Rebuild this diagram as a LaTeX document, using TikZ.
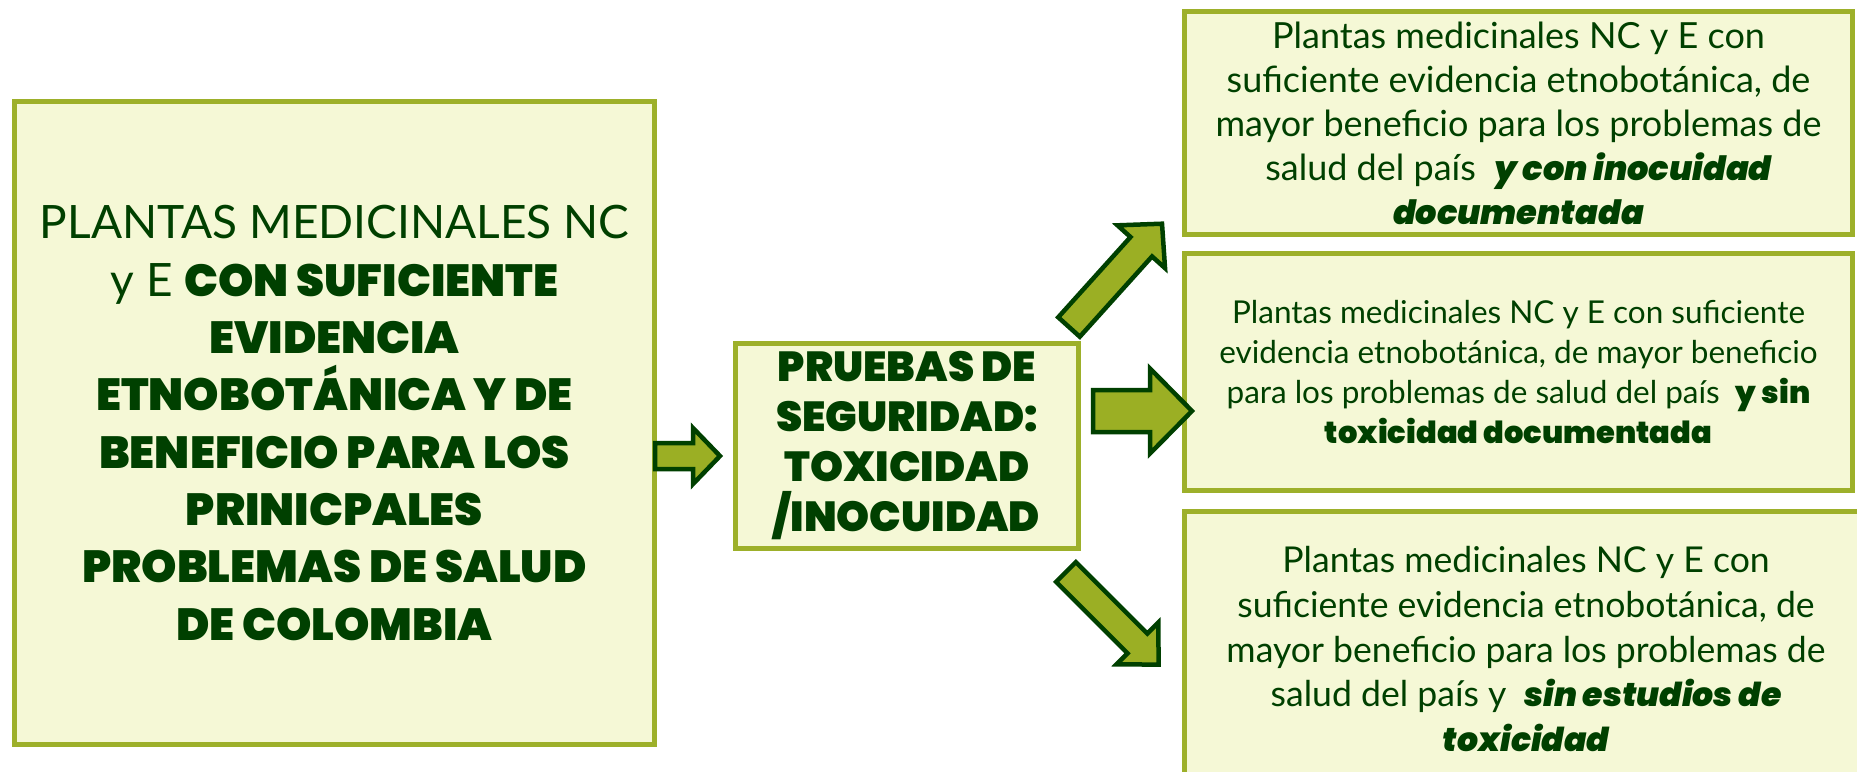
\documentclass[tikz,border=0pt]{standalone}
\usepackage{fontspec}
\IfFontExistsTF{Lato}{\setmainfont{Lato}}{\setmainfont{Liberation Sans}}
\IfFontExistsTF{Poppins Black}{\newfontfamily\heavy{Poppins Black}}{\newfontfamily\heavy{Lato Black}[FakeBold=2]}
\IfFontExistsTF{Poppins Black Italic}{\newfontfamily\heavyit{Poppins Black Italic}}{\newfontfamily\heavyit{Lato Black Italic}[FakeBold=2]}
\definecolor{boxfill}{HTML}{F5F8D6}
\definecolor{boxline}{HTML}{9DB02A}
\definecolor{txt}{HTML}{004000}
\definecolor{arrfill}{HTML}{9BAF24}
\tikzset{
  box/.style={draw=boxline, fill=boxfill, line width=5pt, inner sep=0pt, align=center, text=txt},
  arr/.style={draw=txt, fill=arrfill, line width=4.5pt, line join=miter},
}
\newcommand\barrow[8]{% name, x, y (tail centre), angle, length, shaft, head, head length
\begin{scope}[shift={(#2,#3)},rotate=#4]
\draw[arr] (0,-#6/2) -- (#5-#8,-#6/2) -- (#5-#8,-#7/2) -- (#5,0) -- (#5-#8,#7/2) -- (#5-#8,#6/2) -- (0,#6/2) -- cycle;
\coordinate (#1) at (#5,0);
\end{scope}}
\newcommand\hv{\heavy\fontsize{45}{57.3}\selectfont}
\begin{document}
\begin{tikzpicture}[x=1pt,y=-1pt]
\useasboundingbox (0,0) rectangle (1857,771);
\clip (0,0) rectangle (1857,771);
% left box
\node[box, minimum width=640pt, minimum height=643pt,
  font={\fontsize{46}{57.3}\selectfont}] (left) at (334.5,423)
  {PLANTAS MEDICINALES NC\\
   y E {\hv CON SUFICIENTE}\\
   {\hv EVIDENCIA}\\
   {\hv ETNOBOTÁNICA Y DE}\\
   {\hv BENEFICIO PARA LOS}\\
   {\hv PRINICPALES}\\
   {\hv PROBLEMAS DE SALUD}\\
   {\hv DE COLOMBIA}};
% middle box
\node[box, minimum width=343pt, minimum height=205pt,
  font={\heavy\fontsize{42}{50}\selectfont}] (mid) at (907,446)
  {PRUEBAS DE\\SEGURIDAD:\\TOXICIDAD\\/INOCUIDAD};
% right boxes
\node[box, minimum width=668pt, minimum height=223pt,
  font={\fontsize{36}{44}\selectfont}] (r1) at (1518.5,123)
  {Plantas medicinales NC y E con\\
   suficiente evidencia etnobotánica, de\\
   mayor beneficio para los problemas de\\
   salud del país \ {\heavyit\fontsize{33.5}{44}\selectfont y con inocuidad}\\
   {\heavyit\fontsize{33.5}{44}\selectfont documentada}};
\node[box, minimum width=668pt, minimum height=237pt,
  font={\fontsize{31.5}{40}\selectfont}] (r2) at (1518.5,372)
  {Plantas medicinales NC y E con suficiente\\
   evidencia etnobotánica, de mayor beneficio\\
   para los problemas de salud del país \ {\heavy\fontsize{30.5}{40}\selectfont y sin}\\
   {\heavy\fontsize{30.5}{40}\selectfont toxicidad documentada}};
\node[box, minimum width=683pt, minimum height=276pt,
  font={\fontsize{35.6}{44.7}\selectfont}] (r3) at (1526,649)
  {Plantas medicinales NC y E con\\
   suficiente evidencia etnobotánica, de\\
   mayor beneficio para los problemas de\\
   salud del país y \ {\heavyit\fontsize{33}{44.7}\selectfont sin estudios de}\\
   {\heavyit\fontsize{33}{44.7}\selectfont toxicidad}};
% block arrows
\barrow{a1}{655}{456}{0}{65}{26}{56}{27}
\barrow{a2}{1069}{327}{48}{139}{29}{64}{31}
\barrow{a3}{1093}{411}{0}{99}{42}{85}{42}
\barrow{a4}{1066}{572}{-45}{131}{28}{59}{30}
\end{tikzpicture}
\end{document}
